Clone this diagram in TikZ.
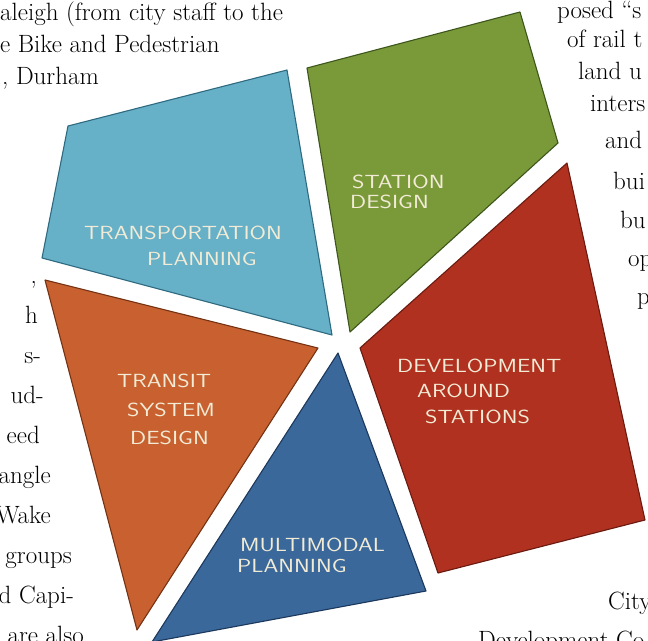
\documentclass[tikz,border=0pt]{standalone}

\definecolor{tpblue}{HTML}{66B0C8}
\definecolor{tpblueedge}{HTML}{2E6A80}
\definecolor{stgreen}{HTML}{7A9A3A}
\definecolor{stgreenedge}{HTML}{3C561B}
\definecolor{devred}{HTML}{B0311F}
\definecolor{devrededge}{HTML}{6A1A10}
\definecolor{tsorange}{HTML}{C8612F}
\definecolor{tsorangeedge}{HTML}{743214}
\definecolor{mmnavy}{HTML}{3A689B}
\definecolor{mmnavyedge}{HTML}{1C385C}
\definecolor{chalk}{HTML}{F2EBD6}

% wide, hand lettered look for the tile names
\newcommand{\tagword}[1]{\scalebox{1.25}[1]{#1}}

\tikzset{
  tile/.style={line width=1.1pt, line join=round},
  body/.style={anchor=base west, inner sep=0pt, font=\fontsize{25}{30}\selectfont},
  bodyr/.style={body, anchor=base east},
  tag/.style={anchor=west, inner sep=0pt, text=chalk,
    font=\sffamily\fontsize{19}{22}\selectfont},
}

\begin{document}
\begin{tikzpicture}[x=1pt,y=-1pt]
\useasboundingbox (0,0) rectangle (648,640);
\clip (0,0) rectangle (648,640);

% The five tiles, each one a polygon with a darker rim
\fill[tpblue, draw=tpblueedge, tile]
    (68,126) -- (287,70) -- (332,335) -- (42,258) -- cycle;
\fill[stgreen, draw=stgreenedge, tile]
    (307,68) -- (520,12) -- (558,143) -- (350,332) -- cycle;
\fill[tsorange, draw=tsorangeedge, tile]
    (45,280) -- (318,348) -- (137,630) -- cycle;
\fill[mmnavy, draw=mmnavyedge, tile]
    (338,353) -- (426,591) -- (152,642) -- cycle;
\fill[devred, draw=devrededge, tile]
    (567,163) -- (645,520) -- (438,573) -- (360,348) -- cycle;

% Hand lettered names, one node for each line
\node[tag] (tpA) at (84,233) {\tagword{TRANSPORTATION}};
\node[tag] (tpB) at (147,259) {\tagword{PLANNING}};
\node[tag] (stA) at (352,182) {\tagword{STATION}};
\node[tag] (stB) at (350,202) {\tagword{DESIGN}};
\node[tag] (tsA) at (117,381) {\tagword{TRANSIT}};
\node[tag] (tsB) at (127,410) {\tagword{SYSTEM}};
\node[tag] (tsC) at (130,438) {\tagword{DESIGN}};
\node[tag] (devA) at (397,366) {\tagword{DEVELOPMENT}};
\node[tag] (devB) at (417,391) {\tagword{AROUND}};
\node[tag] (devC) at (425,417) {\tagword{STATIONS}};
\node[tag] (mmA) at (240,545) {\tagword{MULTIMODAL}};
\node[tag] (mmB) at (237,566) {\tagword{PLANNING}};

% Running text of the page round the tiles
\node[body] (topA) at (0,20) {aleigh (from city staff to the};
\node[body] (topB) at (0,52) {e Bike and Pedestrian};
\node[body] (topC) at (2,84) {, Durham};

\node[body] (rtA) at (557,18) {posed ``s};
\node[body] (rtB) at (567,47) {of rail t};
\node[body] (rtC) at (578,79) {land u};
\node[body] (rtD) at (590,111) {inters};
\node[body] (rtE) at (605,148) {and};
\node[body] (rtF) at (613,189) {bui};
\node[body] (rtG) at (620,228) {bu};
\node[body] (rtH) at (628,266) {op};
\node[body] (rtI) at (637,304) {p};

\node[bodyr] (lfA) at (37,283) {,};
\node[bodyr] (lfB) at (38,323) {h};
\node[bodyr] (lfC) at (41,363) {s-};
\node[bodyr] (lfD) at (44,403) {ud-};
\node[bodyr] (lfE) at (40,443) {eed};
\node[bodyr] (lfF) at (51,483) {angle};
\node[bodyr] (lfG) at (51,523) {Wake};
\node[bodyr] (lfH) at (72,563) {groups};
\node[bodyr] (lfI) at (74,603) {d Capi-};
\node[bodyr] (lfJ) at (84,643) {are also};

\node[body] (btA) at (608,609) {City};
\node[body] (btB) at (478,648) {Development Co};
\end{tikzpicture}
\end{document}
